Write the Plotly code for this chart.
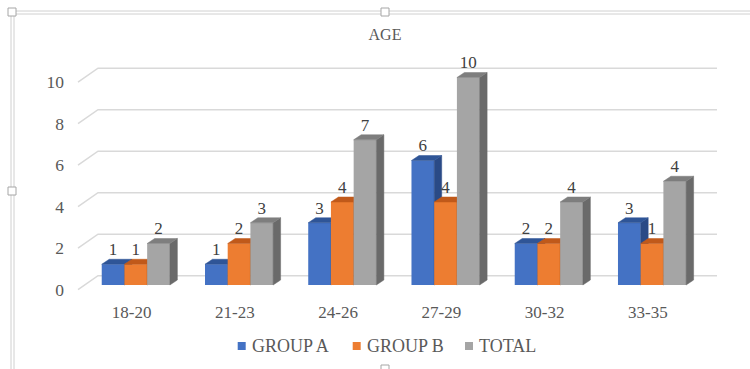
import plotly.graph_objects as go

categories = ["18-20", "21-23", "24-26", "27-29", "30-32", "33-35"]
series_names = ["GROUP A", "GROUP B", "TOTAL"]
group_a = [1, 1, 3, 6, 2, 3]
group_b = [1, 2, 4, 4, 2, 2]
total = [2, 3, 7, 10, 4, 5]
label_a = ["1", "1", "3", "6", "2", "3"]
label_b = ["1", "2", "4", "4", "2", "1"]
label_total = ["2", "3", "7", "10", "4", "4"]
y_ticks = [0, 2, 4, 6, 8, 10]

values = [group_a, group_b, total]
labels = [label_a, label_b, label_total]
front_cols = ["#4472C4", "#ED7D31", "#A5A5A5"]
top_cols = ["#2F5597", "#C0591A", "#7E7E7E"]
side_cols = ["#2A4A86", "#A84E12", "#6A6A6A"]

FONT = "'Liberation Serif', 'DejaVu Serif', serif"
W, H = 750, 369
ML, MR, MT, MB = 70, 20, 40, 69
PX0, PX1, PY0, PY1 = ML, W - MR, MT, H - MB

XC0, XU = 135.8, 103.25      # centre of first group, px per category
YB0, YU = 285.0, 20.75       # bar base, px per unit
xr = [(PX0 - XC0) / XU, (PX1 - XC0) / XU]
yr = [(YB0 - PY1) / YU, (YB0 - PY0) / YU]

bw = 0.22
offs = [-0.33, -0.11, 0.11]
dx = 7.5 / XU
dy = 5.0 / YU
front_shift = 4.7 / YU
back_shift = 9.3 / YU
x_front = (78 - XC0) / XU
x_back = (98 - XC0) / XU
x_right = (717 - XC0) / XU

fig = go.Figure()
xs = list(range(len(categories)))
for k in range(3):
    xa = "x" if k == 0 else f"x{k+1}"
    ya = "y" if k == 0 else f"y{k+1}"
    vals = values[k]
    fig.add_trace(go.Bar(
        x=xs, y=vals, width=bw, offset=offs[k], name=series_names[k],
        marker=dict(color=front_cols[k], line=dict(width=0)),
        xaxis=xa, yaxis=ya, showlegend=False))
    sx, sy, tx, ty = [], [], [], []
    for i, v in zip(xs, vals):
        x0 = i + offs[k]
        x1 = x0 + bw
        sx += [x1, x1, x1 + dx, x1 + dx, x1, None]
        sy += [0, v, v + dy, dy, 0, None]
        tx += [x0, x0 + dx, x1 + dx, x1, x0, None]
        ty += [v, v + dy, v + dy, v, v, None]
    fig.add_trace(go.Scatter(x=sx, y=sy, mode="lines", fill="toself",
                             fillcolor=side_cols[k], line=dict(width=0.5, color=side_cols[k]),
                             xaxis=xa, yaxis=ya, showlegend=False, hoverinfo="skip"))
    fig.add_trace(go.Scatter(x=tx, y=ty, mode="lines", fill="toself",
                             fillcolor=top_cols[k], line=dict(width=0.5, color=top_cols[k]),
                             xaxis=xa, yaxis=ya, showlegend=False, hoverinfo="skip"))
    fig.add_trace(go.Scatter(
        x=[i + offs[k] + bw / 2 for i in xs], y=[v + dy for v in vals],
        mode="text", text=labels[k], textposition="top center",
        textfont=dict(family=FONT, size=17, color="#404040"),
        xaxis=xa, yaxis=ya, showlegend=False, hoverinfo="skip", cliponaxis=False))

shapes = []
for v in y_ticks:
    shapes.append(dict(
        type="path", xref="x", yref="y", layer="below",
        path=f"M{x_front},{v - front_shift} L{x_back},{v + back_shift} L{x_right},{v + back_shift}",
        line=dict(color="#D9D9D9", width=1.5)))


def px2paper(px, py):
    return (px - PX0) / (PX1 - PX0), (PY1 - py) / (PY1 - PY0)


for (a, b, c, d_) in [(11, 11, W + 5, 11), (11, 14, W + 5, 14), (11, 11, 11, H + 5), (14, 14, 14, H + 5)]:
    x0p, y0p = px2paper(a, b)
    x1p, y1p = px2paper(c, d_)
    shapes.append(dict(type="line", xref="paper", yref="paper", x0=x0p, y0=y0p, x1=x1p, y1=y1p,
                       line=dict(color="#D0D0D0", width=1)))
for (hx, hy) in [(12, 12), (385, 12), (12, 191), (385, 369)]:
    x0p, y0p = px2paper(hx - 4, hy - 4)
    x1p, y1p = px2paper(hx + 4, hy + 4)
    shapes.append(dict(type="rect", xref="paper", yref="paper", x0=x0p, y0=y0p, x1=x1p, y1=y1p,
                       fillcolor="white", line=dict(color="#A6A6A6", width=1)))

annotations = []
legend_sq_x = [241.7, 356.7, 469.0]
legend_y = 346
for k in range(3):
    x0p, y0p = px2paper(legend_sq_x[k] - 4, legend_y - 4)
    x1p, y1p = px2paper(legend_sq_x[k] + 4, legend_y + 4)
    shapes.append(dict(type="rect", xref="paper", yref="paper", x0=x0p, y0=y0p, x1=x1p, y1=y1p,
                       fillcolor=front_cols[k], line=dict(width=0)))
    tx_, ty_ = px2paper(legend_sq_x[k] + 8, legend_y)
    annotations.append(dict(text=series_names[k], xref="paper", yref="paper", x=tx_, y=ty_,
                            xanchor="left", yanchor="middle", showarrow=False,
                            font=dict(family=FONT, size=18, color="#595959")))

axis_common = dict(showgrid=False, zeroline=False, showline=False)
layout = dict(
    width=W, height=H,
    margin=dict(l=ML, r=MR, t=MT, b=MB),
    paper_bgcolor="white", plot_bgcolor="white",
    font=dict(family=FONT),
    title=dict(text="AGE", x=385 / W, xref="container", xanchor="center",
               y=1 - 34 / H, yref="container", yanchor="middle",
               font=dict(family=FONT, size=16, color="#595959")),
    xaxis=dict(range=xr, tickmode="array", tickvals=[i - 0.04 for i in xs], ticktext=categories,
               tickfont=dict(family=FONT, size=17, color="#595959"), ticks="", **axis_common),
    yaxis=dict(range=yr, tickmode="array", tickvals=[v - front_shift for v in y_ticks],
               ticktext=[str(v) for v in y_ticks], ticks="", ticklabelstandoff=5,
               tickfont=dict(family=FONT, size=17.5, color="#595959"), **axis_common),
    showlegend=False,
    shapes=shapes,
    annotations=annotations,
    hovermode=False,
)
for k in (2, 3):
    layout[f"xaxis{k}"] = dict(overlaying="x", matches="x", range=xr, visible=False, **axis_common)
    layout[f"yaxis{k}"] = dict(overlaying="y", matches="y", range=yr, visible=False, **axis_common)
fig.update_layout(**layout)
fig.write_html("out.html")
